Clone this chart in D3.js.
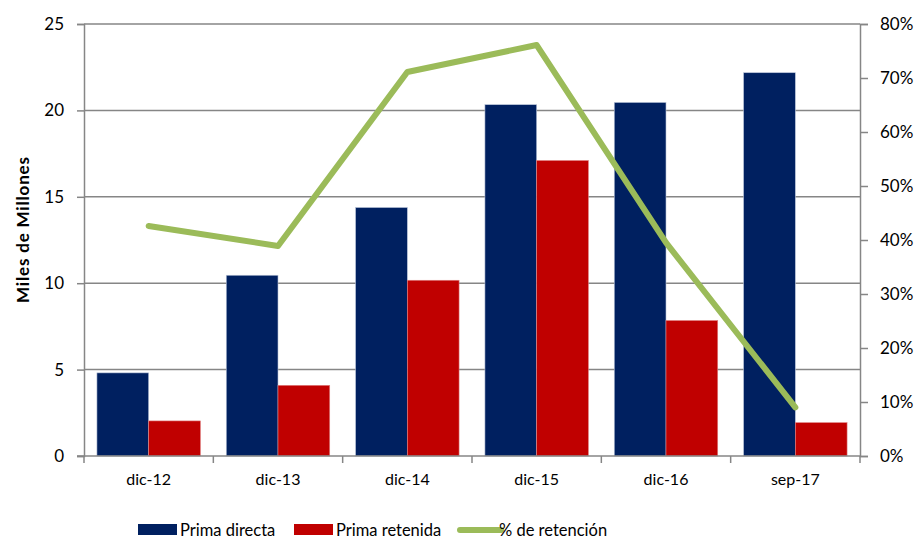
<!DOCTYPE html>
<html>
<head>
<meta charset="utf-8">
<script src="https://cdn.jsdelivr.net/npm/d3@7"></script>
<style>
  body { margin: 0; background: #fff; }
  svg { display: block; font-family: Lato, "Open Sans", sans-serif; }
</style>
</head>
<body>
<div id="chart"></div>
<script>
const categories = ["dic-12", "dic-13", "dic-14", "dic-15", "dic-16", "sep-17"];
const primaDirecta = [4.81, 10.46, 14.38, 20.33, 20.46, 22.18];
const primaRetenida = [2.03, 4.09, 10.17, 17.1, 7.84, 1.93];
const retencion = [0.426, 0.389, 0.711, 0.761, 0.395, 0.090];
const leftTicks = [0, 5, 10, 15, 20, 25];
const rightTicks = [0, 0.1, 0.2, 0.3, 0.4, 0.5, 0.6, 0.7, 0.8];

const width = 922, height = 541;
const margin = { top: 24, right: 62, bottom: 85, left: 84 };
const innerW = width - margin.left - margin.right;
const innerH = height - margin.top - margin.bottom;

const svg = d3.select("#chart").append("svg")
    .attr("width", width)
    .attr("height", height);

const g = svg.append("g")
    .attr("transform", `translate(${margin.left},${margin.top})`);

const x = d3.scaleBand().domain(categories).range([0, innerW]).paddingInner(0.2).paddingOuter(0.1);
const xCat = d3.scaleBand().domain(categories).range([0, innerW]);
const y = d3.scaleLinear().domain([0, 25]).range([innerH, 0]);
const y2 = d3.scaleLinear().domain([0, 0.8]).range([innerH, 0]);
const sub = d3.scaleBand().domain(["d", "r"]).range([0, x.bandwidth()]);

const gray = "#868686";

// gridlines
g.selectAll(".grid").data(leftTicks.slice(1)).enter().append("line")
    .attr("x1", 0).attr("x2", innerW)
    .attr("y1", d => y(d)).attr("y2", d => y(d))
    .attr("stroke", gray).attr("stroke-width", 1.5);

// bars
const groups = g.selectAll(".cat").data(categories).enter().append("g")
    .attr("transform", d => `translate(${x(d)},0)`);

groups.append("rect")
    .attr("x", sub("d"))
    .attr("width", sub.bandwidth())
    .attr("y", (d, i) => y(primaDirecta[i]))
    .attr("height", (d, i) => innerH - y(primaDirecta[i]))
    .attr("fill", "#002060")
    .attr("stroke", "#b8c3d8").attr("stroke-width", 0.6);

groups.append("rect")
    .attr("x", sub("r"))
    .attr("width", sub.bandwidth())
    .attr("y", (d, i) => y(primaRetenida[i]))
    .attr("height", (d, i) => innerH - y(primaRetenida[i]))
    .attr("fill", "#C00000")
    .attr("stroke", "#e08080").attr("stroke-width", 0.6);

// axes
const yAxis = d3.axisLeft(y).tickValues(leftTicks).tickSize(7).tickPadding(13);
const yAxisG = g.append("g").call(yAxis);

const y2Axis = d3.axisRight(y2).tickValues(rightTicks).tickSize(8).tickPadding(12)
    .tickFormat(d3.format(".0%"));
const y2AxisG = g.append("g").attr("transform", `translate(${innerW},0)`).call(y2Axis);

const xAxis = d3.axisBottom(xCat).tickSize(0).tickPadding(18);
const xAxisG = g.append("g").attr("transform", `translate(0,${innerH})`).call(xAxis);

// category boundary ticks on the bottom axis
g.selectAll(".xtick").data(d3.range(categories.length + 1)).enter().append("line")
    .attr("x1", i => i * xCat.step()).attr("x2", i => i * xCat.step())
    .attr("y1", innerH).attr("y2", innerH + 7)
    .attr("stroke", gray).attr("stroke-width", 1.5);

[yAxisG, y2AxisG, xAxisG].forEach(a => {
    a.select(".domain").attr("stroke", gray).attr("stroke-width", 1.5);
    a.selectAll(".tick line").attr("stroke", gray).attr("stroke-width", 1.5);
    a.selectAll("text").attr("font-size", 17).attr("fill", "#000")
        .attr("font-family", "Lato, 'Open Sans', sans-serif");
});
xAxisG.selectAll("text").attr("font-size", 16);
xAxisG.select(".domain").attr("d", `M-7,0H${innerW}`);

// retention line
const line = d3.line()
    .x((d, i) => xCat(categories[i]) + xCat.bandwidth() / 2)
    .y(d => y2(d));

g.append("path")
    .datum(retencion)
    .attr("d", line)
    .attr("fill", "none")
    .attr("stroke", "#9BBB59")
    .attr("stroke-width", 6)
    .attr("stroke-linecap", "round")
    .attr("stroke-linejoin", "round");

// y axis title
svg.append("text")
    .attr("transform", `translate(22,230) rotate(-90)`)
    .attr("text-anchor", "middle")
    .attr("dominant-baseline", "central")
    .attr("font-size", 17)
    .attr("font-weight", "bold")
    .attr("textLength", 146)
    .attr("lengthAdjust", "spacing")
    .text("Miles de Millones");

// legend
const legendItems = [
    { label: "Prima directa", type: "rect", color: "#002060", x: 138 },
    { label: "Prima retenida", type: "rect", color: "#C00000", x: 294 },
    { label: "% de retención", type: "line", color: "#9BBB59", x: 457 }
];
const legend = svg.append("g").attr("transform", "translate(0,530)");
legendItems.forEach(item => {
    if (item.type === "rect") {
        legend.append("rect")
            .attr("x", item.x).attr("y", -6)
            .attr("width", 39).attr("height", 11)
            .attr("fill", item.color);
    } else {
        legend.append("line")
            .attr("x1", item.x + 3).attr("x2", item.x + 44)
            .attr("y1", 0).attr("y2", 0)
            .attr("stroke", item.color).attr("stroke-width", 6)
            .attr("stroke-linecap", "round");
    }
    legend.append("text")
        .attr("x", item.x + 42)
        .attr("y", 0)
        .attr("dominant-baseline", "central")
        .attr("font-size", 16.5)
        .text(item.label);
});
</script>
</body>
</html>
